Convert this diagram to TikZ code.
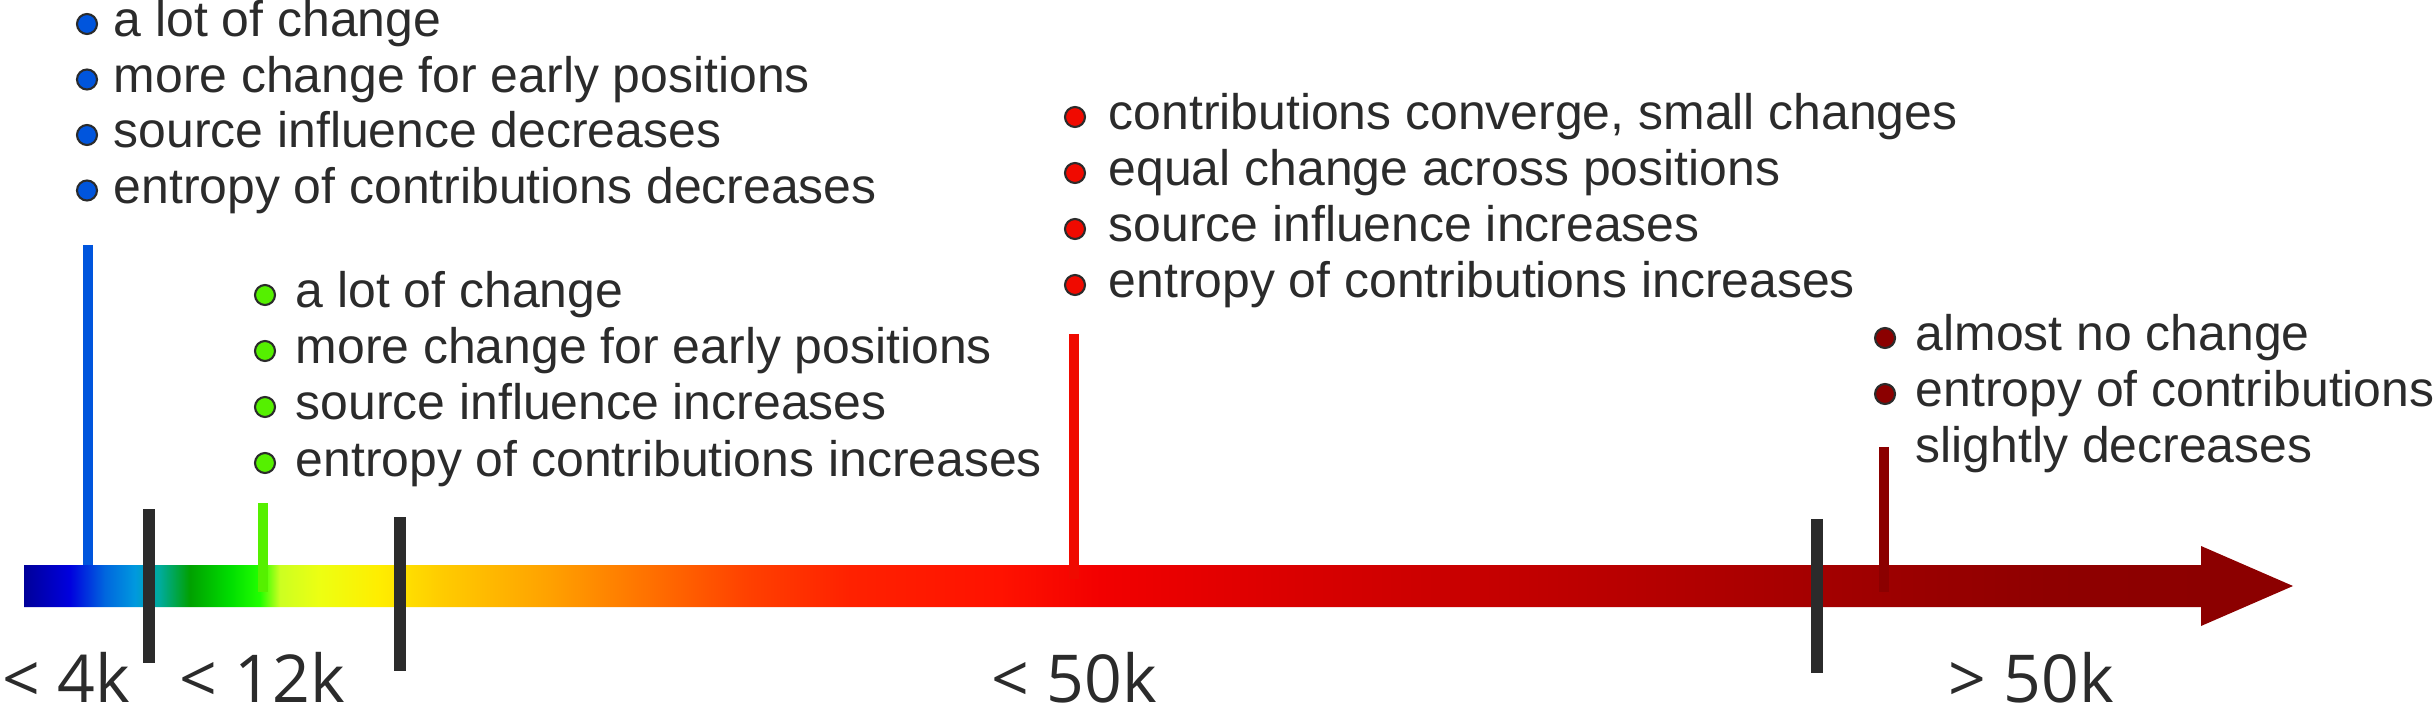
\documentclass[tikz,border=0pt]{standalone}
\usepackage{fontspec}
\setmainfont{Liberation Sans}
\newfontfamily\rangefont{Open Sans}
\usepackage{xcolor}
\definecolor{ink}{HTML}{2B2B2B}
\definecolor{c4k}{HTML}{0055DD}
\definecolor{c12k}{HTML}{55F000}
\definecolor{c50k}{HTML}{F00A00}
\definecolor{cmore}{HTML}{8B0000}
\usepackage{tikz}
\usetikzlibrary{calc}

% bar colours, left to right (bbox maps to 25bp..75bp)
\pgfdeclarehorizontalshading{timeline}{100bp}{
  rgb(0bp)=(0,0,0.6); rgb(25bp)=(0,0,0.6);
  rgb(26.01bp)=(0,0,0.87); rgb(26.78bp)=(0,0.4,0.87);
  rgb(27.45bp)=(0,0.6,0.87); rgb(28bp)=(0,0.67,0.6);
  rgb(28.66bp)=(0,0.63,0); rgb(29.54bp)=(0,0.87,0);
  rgb(30.2bp)=(0.13,1,0); rgb(30.64bp)=(0.8,1,0.13);
  rgb(31.52bp)=(0.93,1,0.07); rgb(32.84bp)=(1,0.93,0);
  rgb(34.17bp)=(1,0.8,0); rgb(36.59bp)=(1,0.63,0);
  rgb(38.79bp)=(1,0.44,0); rgb(40.99bp)=(1,0.25,0);
  rgb(43.2bp)=(1,0.13,0); rgb(46.51bp)=(1,0.07,0);
  rgb(48.71bp)=(0.95,0,0); rgb(53.12bp)=(0.85,0,0);
  rgb(57.53bp)=(0.77,0,0); rgb(61.93bp)=(0.69,0,0);
  rgb(66.34bp)=(0.61,0,0); rgb(69.65bp)=(0.56,0,0);
  rgb(72.97bp)=(0.55,0,0); rgb(75bp)=(0.55,0,0); rgb(100bp)=(0.55,0,0)}

\begin{document}
\begin{tikzpicture}[
    tick/.style={draw=ink, line width=1.2mm},
    marker/.style={line width=1mm},
    dot/.style={circle, draw=ink, line width=0.6pt, fill=#1, minimum size=2mm, inner sep=0pt},
    item/.style={anchor=base west, inner sep=0pt, text=ink, font=\fontsize{14.2pt}{17pt}\selectfont},
    rangelabel/.style={anchor=base west, inner sep=0pt, text=ink, font=\rangefont\fontsize{18.8pt}{22pt}\selectfont}
]
\useasboundingbox (0,0) rectangle (24.34,7.10);

% ── Timeline Arrow ──
\shade[shading=timeline] (0.24,1.03) -- (22.01,1.03) -- (22.01,0.84) -- (22.93,1.24)
    -- (22.01,1.64) -- (22.01,1.45) -- (0.24,1.45) -- cycle;

% ── Stage Markers ──
\coordinate (m4k) at (0.88,4.65);
\coordinate (m12k) at (2.63,2.07);
\coordinate (m50k) at (10.74,3.76);
\coordinate (mmore) at (18.84,2.63);
\draw[marker, draw=c4k] (m4k) -- (m4k |- 0,1.45);
\draw[marker, draw=c12k] (m12k) -- (m12k |- 0,1.18);
\draw[marker, draw=c50k] (m50k) -- (m50k |- 0,1.31);
\draw[marker, draw=cmore] (mmore) -- (mmore |- 0,1.18);

% ── Range Borders ──
\draw[tick] (1.49,2.01) -- (1.49,0.47);
\draw[tick] (4.00,1.93) -- (4.00,0.39);
\draw[tick] (18.17,1.91) -- (18.17,0.37);

% ── Range Labels ──
\node[rangelabel] (r4k) at (0.02,0.08) {< 4k};
\node[rangelabel] (r12k) at (1.79,0.08) {< 12k};
\node[rangelabel] (r50k) at (9.91,0.08) {< 50k};
\node[rangelabel] (rmore) at (19.48,0.08) {> 50k};

% ── Notes: < 4k ──
\foreach \txt [count=\i] in {a lot of change, more change for early positions,
    source influence decreases, entropy of contributions decreases} {
  \node[dot=c4k] (b4k\i) at (0.87,{6.86-0.555*(\i-1)}) {};
  \node[item] (t4k\i) at ($(b4k\i)+(0.26,-0.13)$) {\txt};
}

% ── Notes: < 12k ──
\foreach \txt [count=\i] in {a lot of change, more change for early positions,
    source influence increases, entropy of contributions increases} {
  \node[dot=c12k] (b12k\i) at (2.65,{4.15-0.56*(\i-1)}) {};
  \node[item] (t12k\i) at ($(b12k\i)+(0.30,-0.13)$) {\txt};
}

% ── Notes: < 50k ──
\foreach \txt [count=\i] in {{contributions converge, small changes}, equal change across positions,
    source influence increases, entropy of contributions increases} {
  \node[dot=c50k] (b50k\i) at (10.75,{5.93-0.56*(\i-1)}) {};
  \node[item] (t50k\i) at ($(b50k\i)+(0.33,-0.13)$) {\txt};
}

% ── Notes: > 50k ──
\foreach \txt [count=\i] in {almost no change, entropy of contributions} {
  \node[dot=cmore] (bmore\i) at (18.85,{3.72-0.56*(\i-1)}) {};
  \node[item] (tmore\i) at ($(bmore\i)+(0.30,-0.13)$) {\txt};
}
\node[item] (tmore3) at ($(tmore2.base west)+(0,-0.56)$) {slightly decreases};
\end{tikzpicture}
\end{document}
